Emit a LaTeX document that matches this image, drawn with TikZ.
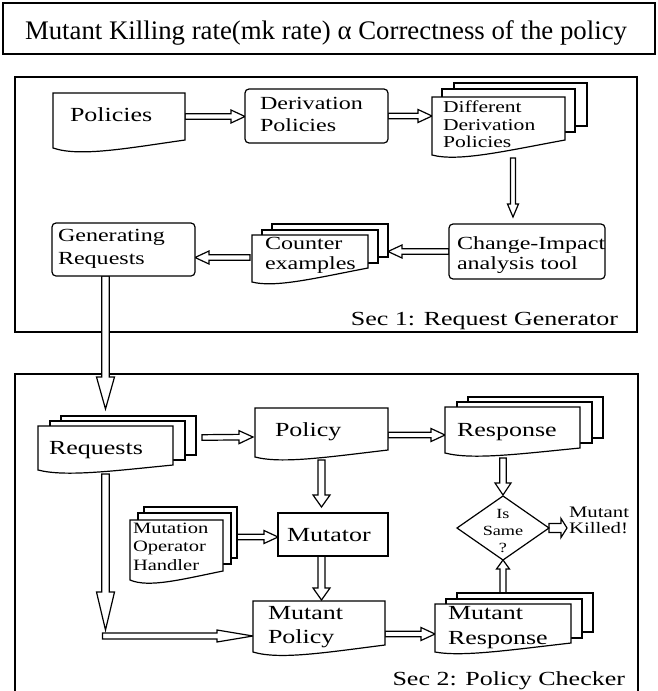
\documentclass[tikz,border=0pt]{standalone}
\usepackage{fontspec}
\setmainfont{Liberation Serif}
\newfontfamily\widefont[FakeStretch=1.3]{Liberation Serif}
\usetikzlibrary{calc,shapes.geometric}
\newcommand\mylines[2][l]{\begin{tabular}[t]{@{}#1@{}}#2\end{tabular}}
\newcommand\fsz[2]{\fontsize{#1}{#2}\selectfont}
% document outline with wavy bottom: #1 node, #2 left drop, #3 control depth
\newcommand\docline[3]{%
  \draw[outl] (#1.south east) -- (#1.north east) -- (#1.north west) -- ($(#1.south west)+(0,#2)$)
    .. controls ($(#1.south west)!0.2!(#1.south east)+(0,#3)$) and ($(#1.south west)!0.55!(#1.south east)+(0,0.5*#3)$) .. (#1.south east) -- cycle;}
% two back layers of a stacked document
\newcommand\stackback[5]{%
  \draw[outl] ($(#1.north west)+(#4,#5)$) rectangle ($(#1.south east)+(#4,#5)$);
  \draw[outl] ($(#1.north west)+(#2,#3)$) rectangle ($(#1.south east)+(#2,#3)$);}
\tikzset{
  ash/.store in=\ash, ahw/.store in=\ahw, ahl/.store in=\ahl,
  ash=2.8pt, ahw=6.5pt, ahl=14pt,
  outl/.style={draw=black, line width=1.2pt, fill=white, line join=miter},
  frame/.style={draw=black, line width=1.4pt, inner sep=0pt, outer sep=0pt, anchor=north west},
  shp/.style={inner sep=0pt, outer sep=0pt, anchor=north west},
  blockto/.style={to path={
    ($(\tikztostart)!\ash!90:(\tikztotarget)$) --
    ($($(\tikztotarget)!\ahl!(\tikztostart)$)!\ash!90:(\tikztotarget)$) --
    ($($(\tikztotarget)!\ahl!(\tikztostart)$)!\ahw!90:(\tikztotarget)$) --
    (\tikztotarget) --
    ($($(\tikztotarget)!\ahl!(\tikztostart)$)!\ahw!-90:(\tikztotarget)$) --
    ($($(\tikztotarget)!\ahl!(\tikztostart)$)!\ash!-90:(\tikztotarget)$) --
    ($(\tikztostart)!\ash!-90:(\tikztotarget)$) -- cycle}},
  txt/.style={inner sep=0pt, outer sep=0pt, anchor=base west},
  bigt/.style={txt, font=\widefont\fsz{20}{24}},
  medt/.style={txt, font=\widefont\fsz{18.5}{22}},
}
\begin{document}
\begin{tikzpicture}[x=1pt, y=-1pt]
\useasboundingbox (0,0) rectangle (657,691);
\clip (0,0) rectangle (657,691);
\fill[white] (0,0) rectangle (657,691);

% frames
\node[frame, minimum width=652pt, minimum height=51pt] (title) at (3,3) {};
\node[txt, font=\fsz{26.8}{30}] (title-t) at (25,39) {Mutant Killing rate(mk rate) α Correctness of the policy};
\node[frame, line width=1.3pt, minimum width=622pt, minimum height=255pt] (sec1) at (15,77) {};
\node[frame, line width=1.3pt, minimum width=623pt, minimum height=340pt] (sec2) at (15,374) {};

% shape placeholders
\node[shp, minimum width=132pt, minimum height=47pt] (pol) at (53,93) {};
\node[shp, minimum width=143pt, minimum height=54pt] (der) at (245,89) {};
\node[shp, minimum width=133pt, minimum height=43pt] (diff) at (432,97) {};
\node[shp, minimum width=156pt, minimum height=55pt] (chg) at (449,224) {};
\node[shp, minimum width=116pt, minimum height=33pt] (cnt) at (252,235) {};
\node[shp, minimum width=143pt, minimum height=53pt] (gen) at (52,223) {};
\node[shp, minimum width=135pt, minimum height=39pt] (req) at (38,426) {};
\node[shp, minimum width=133pt, minimum height=42pt] (polc) at (255,408) {};
\node[shp, minimum width=135pt, minimum height=41pt] (resp) at (445,407) {};
\node[shp, minimum width=110pt, minimum height=43pt] (mut) at (278,513) {};
\node[shp, minimum width=93pt, minimum height=51pt] (moh) at (130,520) {};
\node[shp, minimum width=132pt, minimum height=44pt] (mpol) at (253,601) {};
\node[shp, minimum width=136pt, minimum height=39pt] (mresp) at (435,604) {};
\node[diamond, inner sep=0pt, outer sep=0pt, minimum width=92pt, minimum height=64pt] (dia) at (503,528) {};
\node[txt, font=\widefont\fsz{16}{16}] (kill-t) at (569,517) {\mylines{Mutant\\Killed!}};
\coordinate (corner) at ($(req.south |- mpol.west)+(0,13)$);

% connectors
\draw[outl] (pol.east) to[blockto] (pol.east -| der.west);
\draw[outl] (der.east) to[blockto] (der.east -| diff.west);
\draw[outl, ash=2.5pt, ahw=5.5pt, ahl=13pt] ([shift={(14.5,18)}]diff.south) to[blockto] ([shift={(-14,-7)}]chg.north);
\draw[outl] (chg.west) to[blockto] ($(chg.west -| cnt.east)+(20,0)$);
\draw[outl] ($(cnt.west)+(-2,6)$) to[blockto] ($(cnt.west -| gen.east)+(0,6)$);
\draw[outl, ash=3.8pt, ahw=9pt, ahl=32pt] (gen.south -| req.north) to[blockto] ($(req.north)+(0,-17)$);
\draw[outl, ash=3.8pt, ahw=9pt, ahl=38pt] ($(req.south)+(0,9)$) to[blockto] ($(corner)+(0,-6)$);
\draw[outl, ash=3pt, ahw=6pt, ahl=36pt] ($(corner)+(-3,0)$) to[blockto] (corner -| mpol.west);
\draw[outl] ($(req.east)+(29,-8)$) to[blockto] ($(polc.west)+(-2,8)$);
\draw[outl] ($(polc.east)+(0,6)$) to[blockto] ($(resp.west)+(0,7.5)$);
\draw[outl, ash=3.5pt, ahw=8.5pt, ahl=12pt] ($(polc.south)+(0,10)$) to[blockto] ($(polc.south |- mut.north)+(0,-6)$);
\draw[outl] ($(moh.east)+(14,-8.5)$) to[blockto] ($(mut.west)+(0,2.5)$);
\draw[outl, ash=3.5pt, ahw=8.5pt, ahl=12pt] (mut.south -| polc.south) to[blockto] ($(mpol.north)+(2.5,-1)$);
\draw[outl] ($(mpol.east)+(0,11)$) to[blockto] ($(mresp.west)+(0,10.5)$);
\draw[outl, ash=3pt, ahw=6.5pt, ahl=9pt] ($(mresp.north)+(0,-11)$) to[blockto] (dia.south);
\draw[outl, ash=3.3pt, ahw=8pt, ahl=12pt] ($(resp.south -| dia.north)+(0,10)$) to[blockto] ($(dia.north)+(0,-1)$);
\draw[outl, ash=4.5pt, ahw=9.5pt, ahl=6pt] (dia.east) to[blockto] ($(dia.east -| kill-t.west)+(-2,0)$);

% shapes
\docline{pol}{8}{17}
\draw[outl, rounded corners=4pt] (der.north west) rectangle (der.south east);
\stackback{diff}{10}{-8}{22}{-14}
\docline{diff}{15}{22}
\draw[outl, rounded corners=4pt] (chg.north west) rectangle (chg.south east);
\stackback{cnt}{10}{-5}{20}{-11}
\docline{cnt}{14}{20}
\draw[outl, rounded corners=4pt] (gen.north west) rectangle (gen.south east);
\stackback{req}{12}{-5}{23}{-10}
\docline{req}{5}{12}
\docline{polc}{7}{14}
\stackback{resp}{12}{-5}{23}{-10}
\docline{resp}{5}{12}
\draw[outl] (mut.north west) rectangle (mut.south east);
\stackback{moh}{8}{-7}{14}{-13}
\docline{moh}{9}{17}
\docline{mpol}{7}{15}
\stackback{mresp}{11}{-5}{22}{-11}
\docline{mresp}{9}{14}
\draw[outl] (dia.north) -- (dia.east) -- (dia.south) -- (dia.west) -- cycle;

% texts
\node[bigt] (pol-t) at (70,121.5) {Policies};
\node[medt] (der-t) at (260,109) {\mylines{Derivation\\Policies}};
\node[txt, font=\widefont\fsz{16.6}{17.5}] (diff-t) at (443,112.5) {\mylines{Different\\Derivation\\Policies}};
\node[medt, font=\widefont\fsz{18.5}{20}] (chg-t) at (457,249) {\mylines{Change-Impact\\analysis tool}};
\node[medt, font=\widefont\fsz{18.5}{20}] (cnt-t) at (265,249) {\mylines{Counter\\examples}};
\node[medt, font=\widefont\fsz{18.5}{23}] (gen-t) at (58,241) {\mylines{Generating\\Requests}};
\node[bigt, anchor=base east] (sec1-t) at (618,325.5) {Sec 1: Request Generator};
\node[bigt] (req-t) at (49,454.5) {Requests};
\node[bigt] (polc-t) at (275,436.5) {Policy};
\node[bigt] (resp-t) at (457,436.5) {Response};
\node[bigt] (mut-t) at (287,541.5) {Mutator};
\node[txt, font=\widefont\fsz{15.8}{18.5}] (moh-t) at (133,533) {\mylines{Mutation\\Operator\\Handler}};
\node[bigt, font=\widefont\fsz{20}{24}] (mpol-t) at (268,619.5) {\mylines{Mutant\\Policy}};
\node[bigt, font=\widefont\fsz{20}{25}] (mresp-t) at (448,619.5) {\mylines{Mutant\\Response}};
\node[txt, anchor=base, font=\widefont\fsz{14}{17}] (dia-t) at (503,518.5) {\mylines[c]{Is\\Same\\?}};
\node[bigt, anchor=base east] (sec2-t) at (625,685.5) {Sec 2: Policy Checker};
\end{tikzpicture}
\end{document}
